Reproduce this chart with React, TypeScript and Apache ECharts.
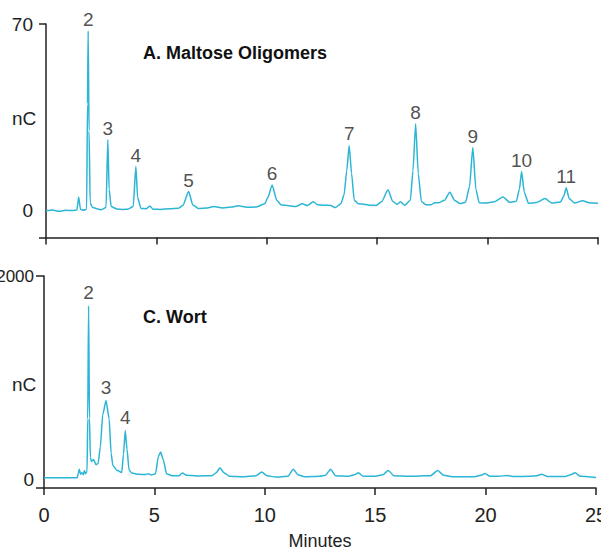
import React, { useEffect, useRef } from "react";
import * as echarts from "echarts";

// Minutes axis
const minuteTicks = [0, 5, 10, 15, 20, 25];

// A. Maltose Oligomers trace: [minutes, nC]
const maltoseTrace: [number, number][] = [
  [0, 0], [0.3, 0.3], [0.6, -0.2], [0.9, 0.2], [1.2, 0.1], [1.4, 0.3], [1.48, 5.2], [1.56, 0.6],
  [1.7, 0.2], [1.84, 0.6], [1.88, 40], [1.91, 67.4], [1.95, 30], [2.0, 3], [2.1, 1.3],
  [2.3, 0.8], [2.5, 0.4], [2.72, 1.2], [2.8, 26.7], [2.86, 8], [2.95, 1.6], [3.2, 0.7],
  [3.5, 0.5], [3.7, 0.6], [3.95, 1.6], [4.07, 16.6], [4.15, 5], [4.3, 0.9], [4.55, 0.8],
  [4.7, 1.8], [4.85, 0.6], [5.2, 0.5], [5.6, 0.8], [6.0, 1.0], [6.2, 2.0], [6.46, 7.2],
  [6.65, 2.2], [6.9, 0.9], [7.3, 1.1], [7.6, 1.6], [8.0, 1.1], [8.4, 1.4], [8.7, 1.9],
  [9.1, 1.3], [9.5, 1.4], [9.9, 2.6], [10.05, 5], [10.24, 9.7], [10.45, 4], [10.65, 2.2],
  [11.0, 1.9], [11.3, 1.6], [11.6, 2.6], [11.85, 2.0], [12.1, 3.4], [12.3, 2.3], [12.6, 2.1],
  [12.9, 2.0], [13.1, 1.2], [13.35, 2.6], [13.5, 6], [13.62, 15], [13.73, 24.5], [13.84, 14],
  [13.96, 4], [14.15, 2.6], [14.4, 2.5], [14.7, 2.1], [14.95, 2.0], [15.2, 3.4], [15.49, 7.9],
  [15.7, 3.6], [15.9, 2.4], [16.05, 3.4], [16.25, 2.0], [16.5, 4], [16.62, 15], [16.74, 32.6],
  [16.86, 14], [17.0, 3.5], [17.2, 2.3], [17.45, 2.3], [17.6, 3.0], [17.8, 3.0], [18.05, 4],
  [18.29, 7.0], [18.5, 4], [18.75, 2.7], [19.0, 3.2], [19.18, 9], [19.33, 23.7], [19.47, 8],
  [19.62, 3.0], [19.9, 2.9], [20.3, 3.4], [20.7, 5.2], [21.0, 3.2], [21.3, 3.6], [21.44, 8],
  [21.54, 14.7], [21.66, 7], [21.85, 2.8], [22.2, 3.1], [22.6, 4.6], [22.9, 2.9], [23.3, 3.3],
  [23.45, 5.5], [23.56, 8.6], [23.7, 4.5], [23.95, 2.9], [24.3, 3.8], [24.6, 3.0], [25, 2.8],
];

// A. peak labels: [minutes, apex nC, label]
const maltosePeakTimes = [1.91, 2.8, 4.07, 6.46, 10.24, 13.73, 16.74, 19.33, 21.54, 23.56];
const maltosePeakHeights = [67.4, 26.7, 16.6, 7.2, 9.7, 24.5, 32.6, 23.7, 14.7, 8.6];
const maltosePeakLabels = ["2", "3", "4", "5", "6", "7", "8", "9", "10", "11"];

// C. Wort trace: [minutes, nC]
const wortTrace: [number, number][] = [
  [0, 20], [1.5, 20], [1.55, 60], [1.6, 105], [1.65, 55], [1.72, 70], [1.78, 50], [1.83, 92],
  [1.88, 60], [1.95, 80], [1.98, 600], [2.02, 1707], [2.06, 600], [2.1, 220], [2.15, 180],
  [2.25, 200], [2.35, 150], [2.45, 160], [2.55, 320], [2.66, 640], [2.81, 778], [2.95, 600],
  [3.04, 260], [3.12, 140], [3.3, 95], [3.52, 72], [3.6, 250], [3.68, 483], [3.76, 300],
  [3.85, 100], [3.97, 66], [4.3, 55], [4.6, 52], [4.73, 60], [4.85, 48], [5.05, 60],
  [5.18, 230], [5.28, 273], [5.4, 200], [5.55, 60], [5.8, 40], [6.1, 40], [6.27, 66],
  [6.45, 45], [7.0, 38], [7.6, 40], [7.8, 70], [7.97, 118], [8.15, 70], [8.4, 35], [9.0, 30],
  [9.6, 40], [9.86, 76], [10.1, 40], [10.5, 28], [11.05, 35], [11.29, 105], [11.5, 50],
  [11.8, 30], [12.5, 35], [12.75, 45], [12.98, 105], [13.2, 40], [13.8, 35], [14.05, 50],
  [14.24, 69], [14.45, 35], [15.0, 35], [15.35, 50], [15.59, 92], [15.85, 40], [16.5, 35],
  [17.0, 38], [17.5, 40], [17.83, 92], [18.1, 45], [18.5, 30], [19.5, 30], [19.8, 45],
  [19.97, 62], [20.2, 35], [20.6, 35], [20.96, 43], [21.3, 32], [22.0, 35], [22.3, 40],
  [22.54, 56], [22.8, 33], [23.6, 33], [23.85, 50], [24.05, 69], [24.3, 35], [25, 23],
];

// C. peak labels
const wortPeakTimes = [2.02, 2.81, 3.68];
const wortPeakHeights = [1707, 778, 483];
const wortPeakLabels = ["2", "3", "4"];

const TRACE = "#2cb5d5";
const INK = "#222222";
const FONT = '"Liberation Sans", Arial, sans-serif';

export default function App() {
  const ref = useRef<HTMLDivElement>(null);
  useEffect(() => {
    if (!ref.current) return;
    const chart = echarts.init(ref.current, undefined, { renderer: "svg" });
    const axisLine = { show: true, onZero: false, lineStyle: { color: INK, width: 1.5 } };
    const tickStyle = { color: INK, width: 1.5 };
    const peakSeries = (times: number[], heights: number[], labels: string[], idx: number, dist: number) => ({
      type: "scatter",
      xAxisIndex: idx,
      yAxisIndex: idx,
      symbolSize: 0,
      silent: true,
      data: times.map((t, i) => ({ value: [t, heights[i]], name: labels[i] })),
      label: {
        show: true,
        position: "top",
        distance: dist,
        formatter: "{b}",
        color: INK,
        fontSize: 19,
        fontFamily: FONT,
      },
    });
    chart.setOption({
      animation: false,
      textStyle: { fontFamily: FONT },
      grid: [
        { left: 46, width: 552, top: 24, height: 213.5, outerBoundsMode: "none", containLabel: false },
        { left: 44, width: 552, top: 276, height: 212, outerBoundsMode: "none", containLabel: false },
      ],
      xAxis: [
        {
          gridIndex: 0, type: "value", min: 0, max: 25, interval: 5,
          axisLine, splitLine: { show: false },
          axisTick: { show: true, length: 7, lineStyle: tickStyle },
          axisLabel: { show: false },
        },
        {
          gridIndex: 1, type: "value", min: 0, max: 25, interval: 5,
          axisLine, splitLine: { show: false },
          axisTick: { show: true, length: 7, lineStyle: tickStyle },
          axisLabel: {
            show: true, customValues: minuteTicks, fontSize: 20, color: INK, margin: 17, fontFamily: FONT,
            showMaxLabel: true, showMinLabel: true,
          },
          name: "Minutes", nameLocation: "middle", nameGap: 44,
          nameTextStyle: { fontSize: 18, color: INK, fontFamily: FONT },
        },
      ],
      yAxis: [
        {
          gridIndex: 0, type: "value", min: -10, max: 70, interval: 10,
          axisLine, splitLine: { show: false },
          axisTick: { show: true, customValues: [-10, 70], length: 7, lineStyle: tickStyle },
          axisLabel: { show: true, customValues: [0, 70], fontSize: 19, color: INK, margin: 13, fontFamily: FONT },
        },
        {
          gridIndex: 1, type: "value", min: -80, max: 2000, interval: 20,
          axisLine, splitLine: { show: false },
          axisTick: { show: true, customValues: [-80, 2000], length: 8, lineStyle: tickStyle },
          axisLabel: {
            show: true, customValues: [0, 2000], color: INK, margin: 10, fontFamily: FONT,
            formatter: (v: number) => (v === 2000 ? "{s|" + v + "}" : String(v)),
            fontSize: 19,
            rich: { s: { fontSize: 17, color: INK, fontFamily: FONT } },
          },
        },
      ],
      graphic: [
        { type: "text", left: 12, top: 109, style: { text: "nC", fontSize: 19, fill: INK, fontFamily: FONT } },
        { type: "text", left: 12, top: 375, style: { text: "nC", fontSize: 19, fill: INK, fontFamily: FONT } },
        {
          type: "text", left: 143, top: 44,
          style: { text: "A. Maltose Oligomers", fontSize: 18, fontWeight: "bold", fill: "#111", fontFamily: FONT },
        },
        {
          type: "text", left: 143, top: 308,
          style: { text: "C. Wort", fontSize: 18, fontWeight: "bold", fill: "#111", fontFamily: FONT },
        },
      ],
      series: [
        {
          type: "line", xAxisIndex: 0, yAxisIndex: 0, data: maltoseTrace, showSymbol: false,
          smooth: 0.2, smoothMonotone: "x", lineStyle: { color: TRACE, width: 1.5 }, silent: true,
        },
        {
          type: "line", xAxisIndex: 1, yAxisIndex: 1, data: wortTrace, showSymbol: false,
          smooth: 0.2, smoothMonotone: "x", lineStyle: { color: TRACE, width: 1.5 }, silent: true,
        },
        peakSeries(maltosePeakTimes, maltosePeakHeights, maltosePeakLabels, 0, 2),
        peakSeries(wortPeakTimes, wortPeakHeights, wortPeakLabels, 1, 4),
      ],
    });
    return () => chart.dispose();
  }, []);
  return (
    <div
      ref={ref}
      style={{ position: "fixed", left: 0, top: 0, width: 601, height: 553, background: "#fff" }}
    />
  );
}
